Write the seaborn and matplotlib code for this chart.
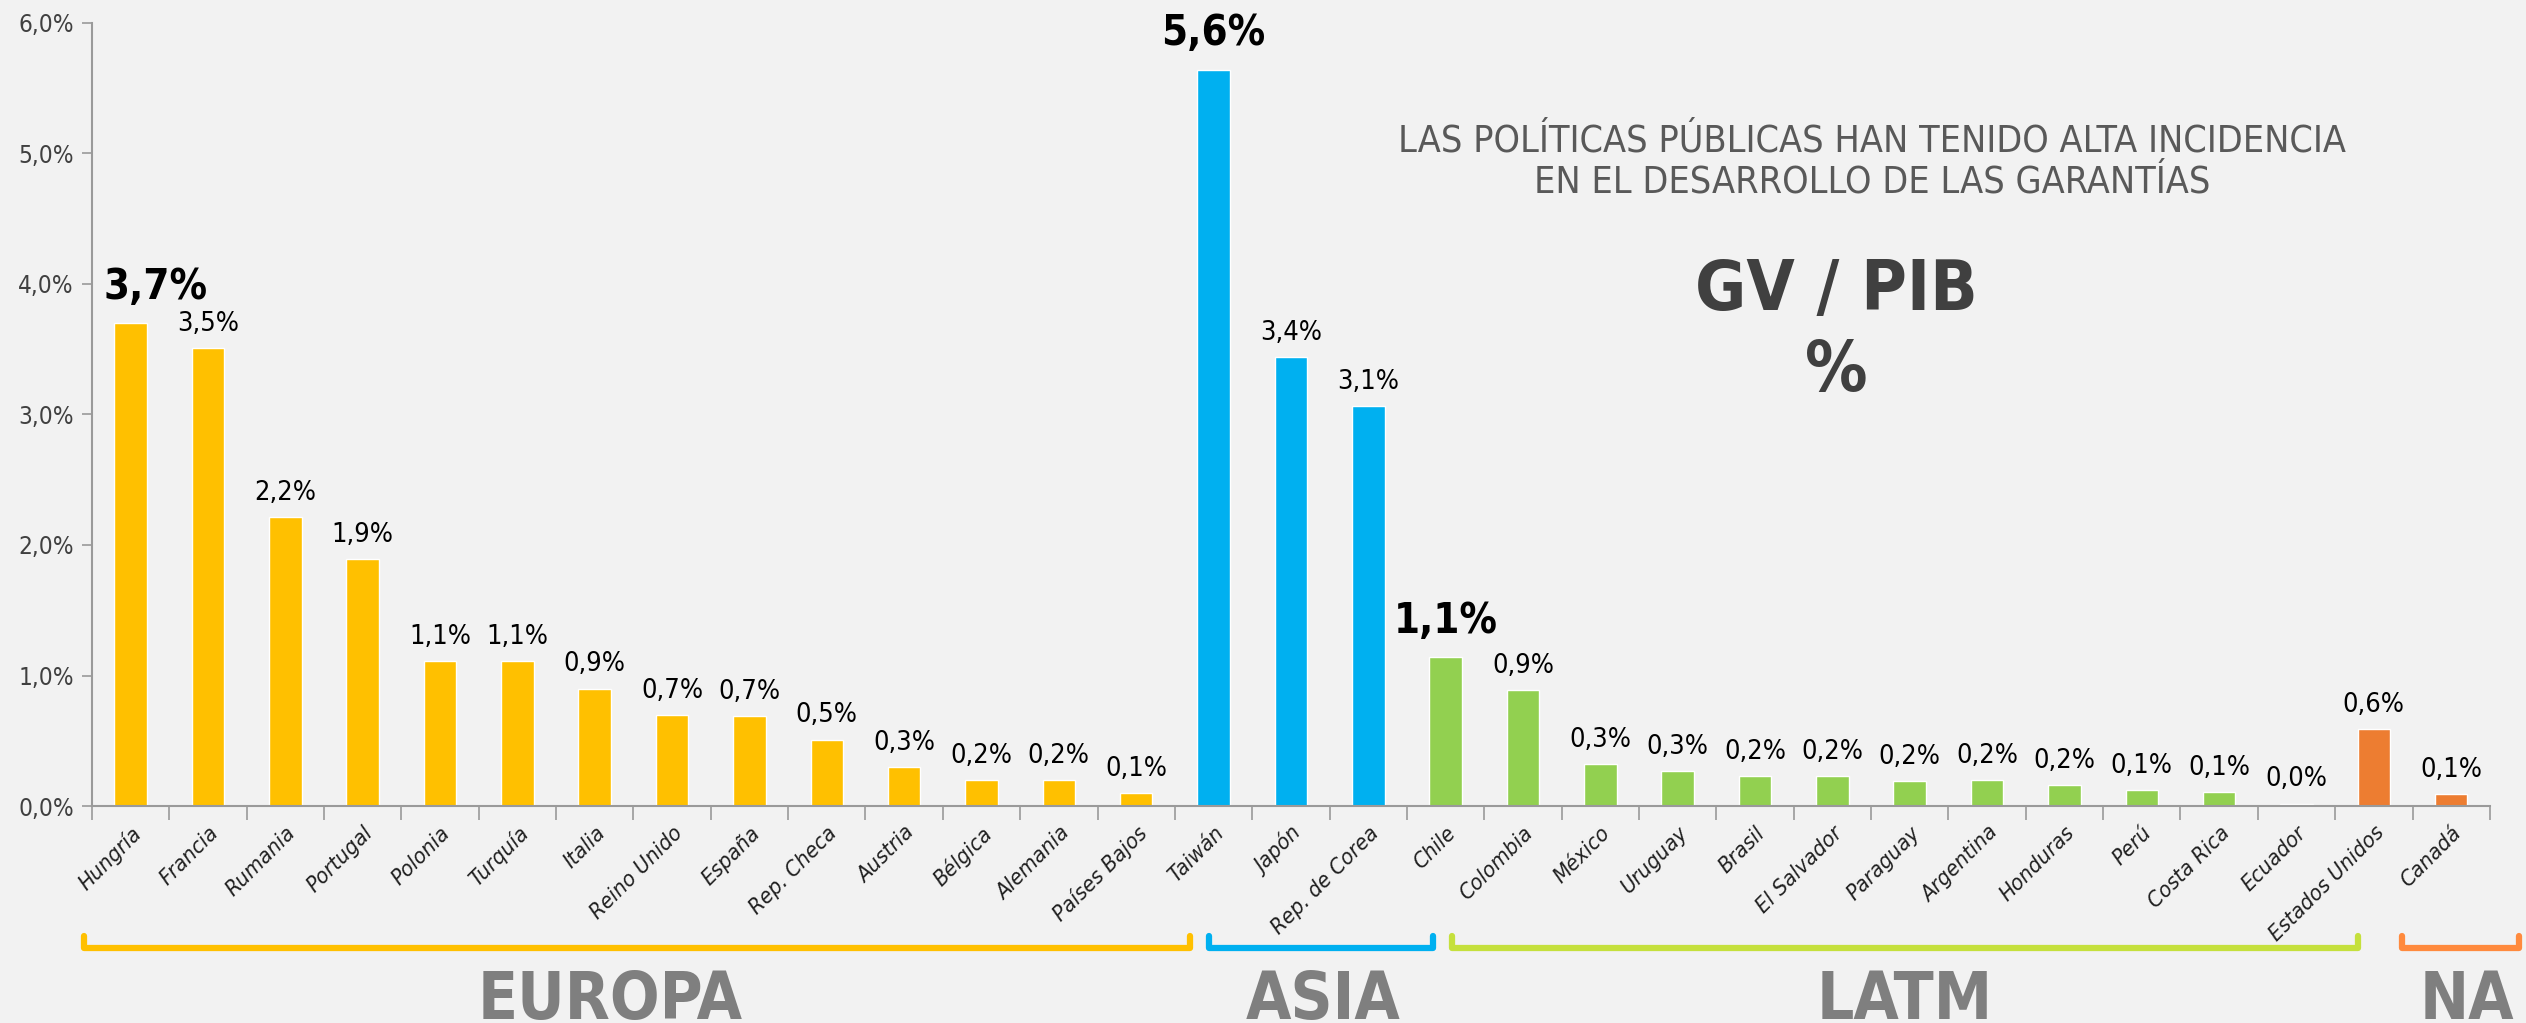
import numpy as np
import pandas as pd
import matplotlib.pyplot as plt
import matplotlib.transforms as mtransforms
import seaborn as sns

countries = ['Hungría', 'Francia', 'Rumania', 'Portugal', 'Polonia', 'Turquía', 'Italia',
             'Reino Unido', 'España', 'Rep. Checa', 'Austria', 'Bélgica', 'Alemania',
             'Países Bajos', 'Taiwán', 'Japón', 'Rep. de Corea', 'Chile', 'Colombia',
             'México', 'Uruguay', 'Brasil', 'El Salvador', 'Paraguay', 'Argentina',
             'Honduras', 'Perú', 'Costa Rica', 'Ecuador', 'Estados Unidos', 'Canadá']
gv_pib = [3.70, 3.51, 2.21, 1.89, 1.11, 1.11, 0.90, 0.70, 0.69, 0.51, 0.30, 0.20, 0.20, 0.10,
          5.64, 3.44, 3.06,
          1.14, 0.89, 0.32, 0.27, 0.23, 0.23, 0.19, 0.20, 0.16, 0.12, 0.11, 0.02,
          0.59, 0.09]
regions = ['EUROPA'] * 14 + ['ASIA'] * 3 + ['LATM'] * 12 + ['NA'] * 2
highlight = ['Hungría', 'Taiwán', 'Chile']
ytick_values = [0, 1, 2, 3, 4, 5, 6]
ytick_labels = ['0,0%', '1,0%', '2,0%', '3,0%', '4,0%', '5,0%', '6,0%']

bar_colors = {'EUROPA': '#FFC000', 'ASIA': '#00B0F0', 'LATM': '#92D050', 'NA': '#ED7D31'}
bracket_colors = {'EUROPA': '#FFC000', 'ASIA': '#00B0F0', 'LATM': '#C5E03C', 'NA': '#FF8A3D'}
# bracket spans and label centres in category units, as drawn in the original
brackets = {'EUROPA': (-0.6, 13.7), 'ASIA': (13.94, 16.84), 'LATM': (17.08, 28.8), 'NA': (29.36, 30.88)}
label_x = {'EUROPA': 6.2, 'ASIA': 15.42, 'LATM': 22.93, 'NA': 30.2}

df = pd.DataFrame({'pais': countries, 'valor': gv_pib, 'region': regions})

sns.set_style('ticks')
plt.rcParams['font.family'] = ['DejaVu Sans']
plt.rcParams['font.stretch'] = 'condensed'
bg = '#F2F2F2'

fig = plt.figure(figsize=(25.26, 10.23), dpi=100, facecolor=bg)
ax = fig.add_axes([0.0364, 0.212, 0.9493, 0.766], facecolor=bg)
sns.barplot(data=df, x='pais', y='valor', hue='region', palette=bar_colors,
            dodge=False, width=0.42, legend=False, saturation=1, ax=ax)

ax.set_xlim(-0.5, len(countries) - 0.5)
ax.set_ylim(0, 6)
ax.set_xlabel('')
ax.set_ylabel('')

# value labels
for i, (p, v) in enumerate(zip(countries, gv_pib)):
    txt = f'{v:.1f}'.replace('.', ',') + '%'
    if p in highlight:
        dx = 18 if i == 0 else 0
        ax.annotate(txt, (i, v), xytext=(dx, 11), textcoords='offset points',
                    ha='center', va='bottom', fontsize=30, fontweight='bold', color='black')
    else:
        ax.annotate(txt, (i, v), xytext=(0, 8), textcoords='offset points',
                    ha='center', va='bottom', fontsize=19.5, color='black')

# axes styling
for s in ['top', 'right']:
    ax.spines[s].set_visible(False)
for s in ['left', 'bottom']:
    ax.spines[s].set_color('#9A9A9A')
    ax.spines[s].set_linewidth(1.5)

ax.set_yticks(ytick_values)
ax.set_yticklabels(ytick_labels)
ax.tick_params(axis='y', length=7, width=1.2, color='#9A9A9A', labelsize=17.5,
               labelcolor='#404040', pad=6)

ax.set_xticks(np.arange(-0.5, len(countries), 1), minor=True)
ax.tick_params(axis='x', which='minor', length=10, width=1.2, color='#9A9A9A')
ax.tick_params(axis='x', which='major', length=0, pad=12, labelsize=16, labelcolor='#202020')
plt.setp(ax.get_xticklabels(), rotation=45, ha='right', va='top',
         rotation_mode='anchor', style='italic')

# region brackets and labels below the axis
trans = mtransforms.blended_transform_factory(ax.transData, fig.transFigure)
for reg, (x0, x1) in brackets.items():
    ax.plot([x0, x0, x1, x1], [0.085, 0.0735, 0.0735, 0.085], transform=trans,
            color=bracket_colors[reg], lw=4.5, solid_capstyle='round',
            solid_joinstyle='round', clip_on=False)
    ax.text(label_x[reg], 0.004, reg, transform=trans, ha='center', va='baseline',
            fontsize=47, fontweight='bold', color='#7F7F7F')

# headline texts
fig.text(0.741, 0.8415, 'LAS POLÍTICAS PÚBLICAS HAN TENIDO ALTA INCIDENCIA\nEN EL DESARROLLO DE LAS GARANTÍAS',
         ha='center', va='center', fontsize=27, color='#595959', linespacing=1.2)
fig.text(0.727, 0.7165, 'GV / PIB', ha='center', va='center', fontsize=50,
         fontweight='bold', color='#404040')
fig.text(0.727, 0.637, '%', ha='center', va='center', fontsize=50,
         fontweight='bold', color='#404040')

plt.savefig('out.png', dpi=100, facecolor=bg)
